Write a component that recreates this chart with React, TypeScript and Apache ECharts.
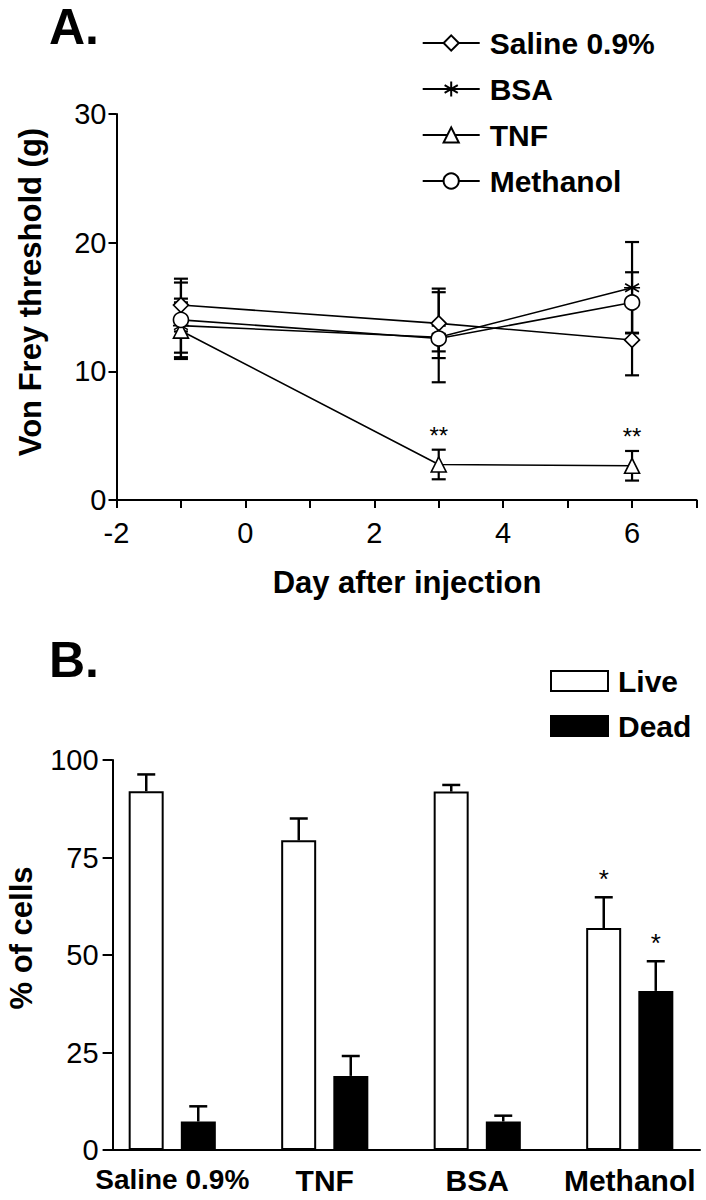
import { useEffect, useRef } from 'react';
import * as echarts from 'echarts';

// ---------- Panel A data ----------
const days = [-1, 3, 6];
const xTicksA = [-2, 0, 2, 4, 6];
const yTicksA = [0, 10, 20, 30];
const saline = [15.15, 13.73, 12.44];
const salineErr = [2.05, 2.7, 2.75];
const bsa = [13.55, 12.65, 16.5];
const bsaErr = [2.1, 3.5, 3.55];
const tnf = [13.16, 2.76, 2.66];
const tnfErr = [2.2, 1.15, 1.15];
const methanol = [14.0, 12.55, 15.35];
const methanolErr = [2.9, 1.0, 2.35];
const tnfSig = ['', '**', '**'];

// ---------- Panel B data ----------
const groups = ['Saline 0.9%', 'TNF', 'BSA', 'Methanol'];
const yTicksB = [0, 25, 50, 75, 100];
const live = [92.0, 79.4, 91.9, 56.9];
const liveErr = [4.3, 5.6, 1.7, 7.9];
const dead = [7.3, 19.0, 7.3, 40.8];
const deadErr = [3.9, 5.1, 1.5, 7.6];
const liveSig = ['', '', '', '*'];
const deadSig = ['', '', '', '*'];

const FONT = "'Liberation Sans', Arial, Helvetica, sans-serif";
const STAR_PATH = 'path://M5 0L5 10M0.67 2.5L9.33 7.5M0.67 7.5L9.33 2.5M0 5L10 5';

function errA(sigs?: string[]) {
  return (params: any, api: any) => {
    const x = api.value(0);
    const lo = api.value(1);
    const hi = api.value(2);
    const t = api.coord([x, hi]);
    const b = api.coord([x, lo]);
    const cap = 7;
    const style = { stroke: '#000', lineWidth: 2.2 };
    const children: any[] = [
      { type: 'line', shape: { x1: t[0], y1: t[1], x2: b[0], y2: b[1] }, style },
      { type: 'line', shape: { x1: t[0] - cap, y1: t[1], x2: t[0] + cap, y2: t[1] }, style },
      { type: 'line', shape: { x1: b[0] - cap, y1: b[1], x2: b[0] + cap, y2: b[1] }, style },
    ];
    const s = sigs ? sigs[params.dataIndex] : '';
    if (s) {
      children.push({
        type: 'text',
        x: t[0],
        y: t[1] - 14,
        style: { text: s, fill: '#000', font: `24px ${FONT}`, align: 'center', verticalAlign: 'middle' },
      });
    }
    return { type: 'group', children };
  };
}

function errB(offset: number, sigs: string[]) {
  return (params: any, api: any) => {
    const c = api.value(0);
    const v = api.value(1);
    const e = api.value(2);
    const b = api.coord([c, v]);
    const t = api.coord([c, v + e]);
    const x = b[0] + offset;
    const cap = 9;
    const style = { stroke: '#000', lineWidth: 2.5 };
    const children: any[] = [
      { type: 'line', shape: { x1: x, y1: b[1], x2: x, y2: t[1] }, style },
      { type: 'line', shape: { x1: x - cap, y1: t[1], x2: x + cap, y2: t[1] }, style },
    ];
    const s = sigs[params.dataIndex];
    if (s) {
      children.push({
        type: 'text',
        x,
        y: t[1] - 18,
        style: { text: s, fill: '#000', font: `26px ${FONT}`, align: 'center', verticalAlign: 'middle' },
      });
    }
    return { type: 'group', children };
  };
}

function lineSeries(name: string, vals: number[], symbol: string, size: number) {
  return {
    name,
    type: 'line',
    xAxisIndex: 0,
    yAxisIndex: 0,
    data: days.map((d, i) => [d, vals[i]]),
    symbol,
    symbolSize: size,
    showAllSymbol: true,
    z: 5,
    lineStyle: { color: '#000', width: 1.6 },
    itemStyle: { color: '#fff', borderColor: '#000', borderWidth: 1.6 },
  };
}

function errSeriesA(name: string, vals: number[], errs: number[], sigs?: string[]) {
  return {
    name,
    type: 'custom',
    xAxisIndex: 0,
    yAxisIndex: 0,
    z: 2,
    renderItem: errA(sigs),
    data: days.map((d, i) => [d, vals[i] - errs[i], vals[i] + errs[i]]),
  };
}

export default function App() {
  const ref = useRef<HTMLDivElement>(null);
  useEffect(() => {
    if (!ref.current) return;
    const chart = echarts.init(ref.current, undefined, { renderer: 'svg' });
    const axisLine = { show: true, onZero: false, lineStyle: { color: '#000', width: 2 } };
    const tickLabel = { fontSize: 29, color: '#000', fontFamily: FONT };
    const barWidth = 35;
    const barOffset = 26;
    const legendText = { fontSize: 30, fontWeight: 'bold', color: '#000', lineHeight: 30, fontFamily: FONT, padding: [0, 0, 0, 5] };
    const option: any = {
      animation: false,
      backgroundColor: '#fff',
      textStyle: { fontFamily: FONT, color: '#000' },
      grid: [
        { left: 116.5, top: 114, width: 580, height: 386 },
        { left: 96, top: 760, width: 616, height: 390 },
        { left: 112.6, top: 760, width: 587.4, height: 390 },
      ],
      xAxis: [
        {
          gridIndex: 0,
          type: 'value',
          min: -2,
          max: 7,
          interval: 1,
          axisLine,
          axisTick: { show: true, length: 8, lineStyle: { color: '#000', width: 2 } },
          splitLine: { show: false },
          axisLabel: {
            ...tickLabel,
            margin: 18,
            formatter: (v: number) => (xTicksA.indexOf(v) >= 0 ? String(v) : ''),
          },
        },
        {
          gridIndex: 1,
          type: 'category',
          data: groups.map((g, i) => (i === 0 ? { value: g, textStyle: { fontSize: 28 } } : g)),
          axisLine: { show: false },
          axisTick: { show: false },
          axisLabel: { fontSize: 30, fontWeight: 'bold', color: '#000', margin: 15, interval: 0, fontFamily: FONT },
        },
        {
          gridIndex: 2,
          type: 'value',
          min: 0,
          max: 1,
          axisLine,
          axisTick: { show: false },
          axisLabel: { show: false },
          splitLine: { show: false },
        },
      ],
      yAxis: [
        {
          gridIndex: 0,
          type: 'value',
          min: yTicksA[0],
          max: yTicksA[yTicksA.length - 1],
          interval: 10,
          axisLine,
          axisTick: { show: true, length: 8, lineStyle: { color: '#000', width: 2 } },
          splitLine: { show: false },
          axisLabel: { ...tickLabel, margin: 10 },
        },
        {
          gridIndex: 1,
          type: 'value',
          min: yTicksB[0],
          max: yTicksB[yTicksB.length - 1],
          interval: 25,
          offset: -16.6,
          axisLine,
          axisTick: { show: true, length: 10, lineStyle: { color: '#000', width: 2 } },
          splitLine: { show: false },
          axisLabel: { ...tickLabel, margin: 14 },
        },
        { gridIndex: 2, type: 'value', min: 0, max: 1, show: false },
      ],
      legend: [
        {
          orient: 'vertical',
          left: 421.7,
          top: 28,
          padding: 0,
          itemWidth: 57,
          itemHeight: 19,
          itemGap: 16,
          selectedMode: false,
          data: ['Saline 0.9%', 'BSA', 'TNF', 'Methanol'],
          textStyle: legendText,
        },
        {
          orient: 'vertical',
          left: 550,
          top: 666,
          padding: 0,
          itemWidth: 57,
          itemHeight: 20,
          itemGap: 15,
          icon: 'rect',
          selectedMode: false,
          data: ['Live', 'Dead'],
          itemStyle: { borderWidth: 2 },
          textStyle: legendText,
        },
      ],
      graphic: [
        { type: 'text', x: 49, y: 27, style: { text: 'A.', font: `bold 50px ${FONT}`, fill: '#000', align: 'left', verticalAlign: 'middle' } },
        { type: 'text', x: 49, y: 660, style: { text: 'B.', font: `bold 50px ${FONT}`, fill: '#000', align: 'left', verticalAlign: 'middle' } },
        { type: 'text', x: 407, y: 582, style: { text: 'Day after injection', font: `bold 31px ${FONT}`, fill: '#000', align: 'center', verticalAlign: 'middle' } },
        { type: 'text', x: 30, y: 292, rotation: Math.PI / 2, style: { text: 'Von Frey threshold (g)', font: `bold 31px ${FONT}`, fill: '#000', align: 'center', verticalAlign: 'middle' } },
        { type: 'text', x: 21, y: 938, rotation: Math.PI / 2, style: { text: '% of cells', font: `bold 31px ${FONT}`, fill: '#000', align: 'center', verticalAlign: 'middle' } },
      ],
      series: [
        errSeriesA('Saline err', saline, salineErr),
        errSeriesA('BSA err', bsa, bsaErr),
        errSeriesA('TNF err', tnf, tnfErr, tnfSig),
        errSeriesA('Methanol err', methanol, methanolErr),
        lineSeries('Saline 0.9%', saline, 'diamond', 15),
        lineSeries('BSA', bsa, STAR_PATH, 16),
        lineSeries('TNF', tnf, 'triangle', 15),
        lineSeries('Methanol', methanol, 'circle', 15),
        {
          name: 'Live',
          type: 'bar',
          xAxisIndex: 1,
          yAxisIndex: 1,
          data: live,
          barWidth,
          barGap: '49%',
          itemStyle: { color: '#fff', borderColor: '#000', borderWidth: 2 },
        },
        {
          name: 'Dead',
          type: 'bar',
          xAxisIndex: 1,
          yAxisIndex: 1,
          data: dead,
          barWidth,
          barGap: '49%',
          itemStyle: { color: '#000', borderColor: '#000', borderWidth: 2 },
        },
        {
          name: 'Live err',
          type: 'custom',
          xAxisIndex: 1,
          yAxisIndex: 1,
          z: 4,
          renderItem: errB(-barOffset, liveSig),
          data: groups.map((g, i) => [i, live[i], liveErr[i]]),
        },
        {
          name: 'Dead err',
          type: 'custom',
          xAxisIndex: 1,
          yAxisIndex: 1,
          z: 4,
          renderItem: errB(barOffset, deadSig),
          data: groups.map((g, i) => [i, dead[i], deadErr[i]]),
        },
      ],
    };
    chart.setOption(option);
    return () => chart.dispose();
  }, []);
  return <div ref={ref} style={{ position: 'absolute', left: 0, top: 0, width: 706, height: 1200 }} />;
}
